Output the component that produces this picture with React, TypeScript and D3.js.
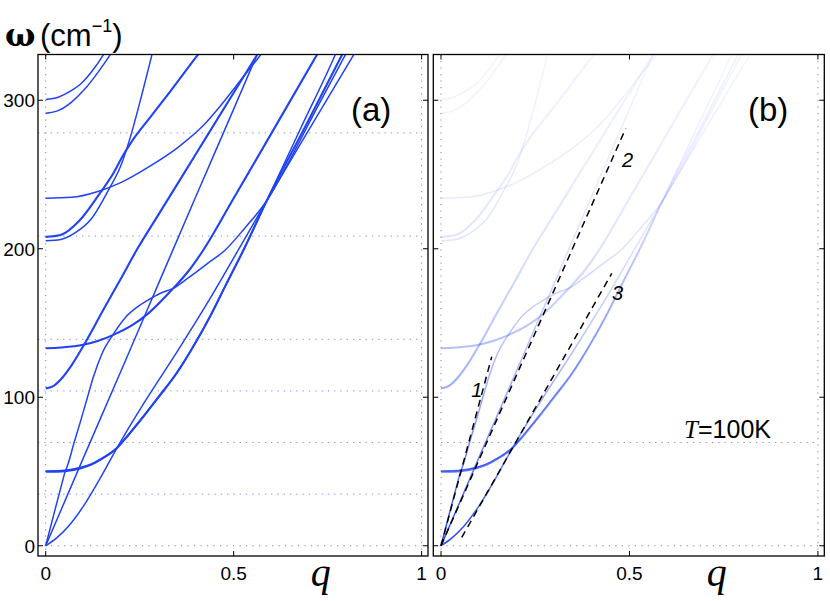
// App.tsx
// Two-panel phonon dispersion chart: (a) all branches, (b) the same branches
// faded with frequency, plus the sound-velocity asymptotes at T = 100 K.
import React from 'react';
import * as d3 from 'd3';

type Pt = [number, number];

// axis ticks
const qTicks = [0, 0.5, 1];
const qTickLabels = ['0', '0.5', '1'];
const wTicks = [0, 100, 200, 300];

// thermal reference levels, cm^-1 (0.5, 1, 1.5, 2, 3, 4 kT at 100 K)
const kTLevelsA = [34.75, 69.5, 104.25, 139, 208.5, 278];
const kTLevelsB = [69.5];

// dispersion branches, [q, omega]
const acousticSteep: Pt[] = [[0, 0], [0.025, 24.5], [0.05, 48.5]];
const branchS: Pt[] = [
  [0.05, 48.5], [0.06, 55.5], [0.075, 69], [0.091, 82.4], [0.11, 99], [0.127, 113.8],
  [0.15, 129.5], [0.18, 142.5], [0.215, 154.5], [0.245, 161], [0.273, 165.5],
  [0.305, 170], [0.339, 173.3], [0.38, 180.5], [0.43, 190], [0.477, 199],
  [0.53, 214], [0.588, 232.3], [0.65, 260], [0.72, 294], [0.796, 330], [0.81, 336.5],
];
const acousticMid: Pt[] = [
  [0, 0], [0.1, 59], [0.2, 117.5], [0.3, 176.5], [0.4, 235.5], [0.5, 294], [0.561, 330], [0.572, 336.5],
];
const acousticLow: Pt[] = [
  [0, 0], [0.03, 5.5], [0.06, 13], [0.1, 26.5], [0.144, 45], [0.189, 65.6], [0.26, 95.5],
  [0.348, 130], [0.435, 165.5], [0.512, 199], [0.588, 232.3], [0.7, 280], [0.818, 330], [0.832, 336],
];
const optic50: Pt[] = [
  [0, 49.8], [0.03, 49.9], [0.056, 50.4], [0.091, 52.1], [0.12, 54.5], [0.144, 57.7],
  [0.189, 65.6], [0.22, 74.5], [0.26, 86.9], [0.3, 100], [0.348, 116], [0.39, 133],
  [0.437, 154.2], [0.48, 176], [0.526, 199], [0.588, 232.3], [0.69, 282], [0.787, 330], [0.8, 336.5],
];
const optic50b: Pt[] = [
  [0, 50.4], [0.03, 50.5], [0.056, 51], [0.091, 52.7], [0.12, 55], [0.144, 58.2],
  [0.189, 66], [0.22, 75], [0.26, 87.4], [0.3, 100.4], [0.348, 116.4], [0.39, 133.3],
  [0.437, 154.5], [0.48, 176.2], [0.526, 199.2], [0.588, 232.3], [0.68, 282], [0.769, 330], [0.78, 336.5],
];
const optic106: Pt[] = [
  [0, 106], [0.02, 107.5], [0.04, 112], [0.07, 122], [0.1, 134.5], [0.153, 158.7],
  [0.198, 179], [0.242, 199.1], [0.3, 223], [0.4, 264], [0.5, 305], [0.561, 330], [0.576, 336],
];
const optic133: Pt[] = [
  [0, 133], [0.04, 133.5], [0.1, 135.3], [0.14, 138], [0.18, 142], [0.23, 148.5],
  [0.273, 156.5], [0.339, 173.3], [0.38, 185], [0.419, 199], [0.5, 234], [0.6, 277.5],
  [0.72, 330], [0.735, 336.5],
];
const optic205: Pt[] = [
  [0, 205.4], [0.04, 206.3], [0.08, 211], [0.121, 220], [0.167, 239.5], [0.2, 256],
  [0.225, 275], [0.255, 303], [0.282, 330], [0.288, 336],
];
const optic208: Pt[] = [
  [0, 208], [0.04, 209.3], [0.09, 219], [0.144, 237.3], [0.18, 250.8], [0.206, 263],
  [0.235, 274.5], [0.27, 286], [0.33, 305.5], [0.4, 329], [0.42, 335.5],
];
const optic233: Pt[] = [
  [0, 234], [0.068, 234.6], [0.139, 238.6], [0.201, 244.7], [0.272, 254.8], [0.352, 268.3],
  [0.423, 284], [0.464, 296], [0.517, 313], [0.57, 330], [0.588, 336],
];
const optic291: Pt[] = [
  [0, 291.2], [0.033, 293], [0.068, 298.6], [0.104, 307.5], [0.139, 318.8], [0.17, 330], [0.185, 336],
];
const optic300: Pt[] = [
  [0, 300.5], [0.033, 302], [0.068, 306.4], [0.095, 311.4], [0.121, 318.8], [0.152, 330], [0.16, 333.5],
];

// sound-velocity asymptotes in panel (b)
const sound1: Pt[] = [[0, 0], [0.1346, 127.3]];
const sound2: Pt[] = [[0, 0], [0.49, 281]];
const sound3: Pt[] = [[0.055, 5.6], [0.453, 183.4]];
const soundLabels: { text: string; at: Pt }[] = [
  { text: '1', at: [0.08, 100] },
  { text: '2', at: [0.48, 255] },
  { text: '3', at: [0.454, 165.5] },
];

const branches: { name: string; pts: Pt[] }[] = [
  { name: 'acousticSteep', pts: acousticSteep },
  { name: 'branchS', pts: branchS },
  { name: 'acousticMid', pts: acousticMid },
  { name: 'acousticLow', pts: acousticLow },
  { name: 'optic50', pts: optic50 },
  { name: 'optic50b', pts: optic50b },
  { name: 'optic106', pts: optic106 },
  { name: 'optic133', pts: optic133 },
  { name: 'optic205', pts: optic205 },
  { name: 'optic208', pts: optic208 },
  { name: 'optic233', pts: optic233 },
  { name: 'optic291', pts: optic291 },
  { name: 'optic300', pts: optic300 },
];

// styling
const BLUE = '#2143f5';
const thick = new Set(['optic50', 'optic106', 'optic133', 'optic208']);
// opacity of the faded curves in (b) against omega
const fadeStops: Pt[] = [
  [0, 1], [25, 0.86], [50, 0.72], [80, 0.56], [106, 0.44], [133, 0.34], [170, 0.23],
  [205, 0.14], [250, 0.1], [300, 0.07], [331, 0.06],
];

const W = 830;
const H = 601;
const TOP = 54.5;
const BOTTOM = 556;
const W_DOMAIN: [number, number] = [-6.9, 330.8];
const Q_DOMAIN: [number, number] = [-0.0205, 1.017];
const SANS = '"Liberation Sans", Arial, Helvetica, sans-serif';
const SERIF = '"Liberation Serif", "Times New Roman", serif';

interface PanelProps {
  id: string;
  left: number;
  right: number;
  faded: boolean;
  levels: number[];
  levelsFrom: number;
  label: string;
  labelX: number;
  showYLabels: boolean;
}

const Panel: React.FC<PanelProps> = ({ id, left, right, faded, levels, levelsFrom, label, labelX, showYLabels }) => {
  const x = d3.scaleLinear().domain(Q_DOMAIN).range([left, right]);
  const y = d3.scaleLinear().domain(W_DOMAIN).range([BOTTOM, TOP]);
  const line = d3
    .line<Pt>()
    .x((d) => x(d[0]))
    .y((d) => y(d[1]))
    .curve(d3.curveMonotoneX);
  const straight = d3
    .line<Pt>()
    .x((d) => x(d[0]))
    .y((d) => y(d[1]));

  const clipId = `clip-${id}`;
  const gradId = `fade-${id}`;
  const tick = 5;

  return (
    <g>
      <defs>
        <clipPath id={clipId}>
          <rect x={left} y={TOP} width={right - left} height={BOTTOM - TOP} />
        </clipPath>
        {faded && (
          <linearGradient id={gradId} gradientUnits="userSpaceOnUse" x1={0} x2={0} y1={y(0)} y2={y(331)}>
            {fadeStops.map(([w, a]) => (
              <stop key={w} offset={w / 331} stopColor={BLUE} stopOpacity={a} />
            ))}
          </linearGradient>
        )}
      </defs>

      <g clipPath={`url(#${clipId})`}>
        {/* grey dotted guides at the axis limits */}
        {[0, 1].map((q) => (
          <line key={q} x1={x(q)} x2={x(q)} y1={TOP} y2={BOTTOM} stroke="#777" strokeWidth={0.9} strokeDasharray="1.2,5.3" />
        ))}
        <line x1={left} x2={right} y1={y(0)} y2={y(0)} stroke="#777" strokeWidth={0.9} strokeDasharray="1.2,5.3" />

        {/* kT levels */}
        {levels.map((w) => (
          <line key={w} x1={x(levelsFrom)} x2={x(1)} y1={y(w)} y2={y(w)} stroke="#7d8dff" strokeWidth={1} strokeDasharray="1.3,5" />
        ))}

        {branches.map((b) => (
          <path
            key={b.name}
            d={line(b.pts) || ''}
            fill="none"
            stroke={faded ? `url(#${gradId})` : BLUE}
            strokeWidth={thick.has(b.name) ? 2.1 : 1.5}
          />
        ))}

        {faded &&
          [sound1, sound2, sound3].map((s, i) => (
            <path key={i} d={straight(s) || ''} fill="none" stroke="#000" strokeWidth={1.5} strokeDasharray="7,5" />
          ))}
      </g>

      {/* frame */}
      <rect x={left} y={TOP} width={right - left} height={BOTTOM - TOP} fill="none" stroke="#000" strokeWidth={1.3} />

      {/* ticks */}
      {wTicks.map((w) => (
        <g key={w}>
          <line x1={left} x2={left + tick} y1={y(w)} y2={y(w)} stroke="#000" strokeWidth={1} />
          <line x1={right - tick} x2={right} y1={y(w)} y2={y(w)} stroke="#000" strokeWidth={1} />
          {showYLabels && (
            <text x={left - 3} y={y(w)} dy="0.36em" textAnchor="end" fontFamily={SANS} fontSize={19}>
              {w}
            </text>
          )}
        </g>
      ))}
      {qTicks.map((q, i) => (
        <g key={q}>
          <line x1={x(q)} x2={x(q)} y1={BOTTOM} y2={BOTTOM - tick} stroke="#000" strokeWidth={1} />
          <line x1={x(q)} x2={x(q)} y1={TOP} y2={TOP + tick} stroke="#000" strokeWidth={1} />
          <text x={x(q)} y={580} textAnchor="middle" fontFamily={SANS} fontSize={19}>
            {qTickLabels[i]}
          </text>
        </g>
      ))}

      {/* x label */}
      <text x={x(0.705)} y={586} fontFamily={SERIF} fontStyle="italic" fontSize={40}>
        q
      </text>

      {/* panel letter */}
      <text x={labelX} y={121} fontFamily={SANS} fontSize={33}>
        {label}
      </text>

      {faded && (
        <g>
          {soundLabels.map((l) => (
            <text key={l.text} x={x(l.at[0])} y={y(l.at[1])} fontFamily={SANS} fontStyle="italic" fontSize={20}>
              {l.text}
            </text>
          ))}
          <text x={x(0.645)} y={y(72.5)} fontSize={25}>
            <tspan fontFamily={SERIF} fontStyle="italic">T</tspan>
            <tspan fontFamily={SANS}>=100K</tspan>
          </text>
        </g>
      )}
    </g>
  );
};

export default function App() {
  return (
    <svg
      width={W}
      height={H}
      viewBox={`0 0 ${W} ${H}`}
      style={{ position: 'absolute', left: 0, top: 0, display: 'block', background: '#fff' }}
    >
      <rect width={W} height={H} fill="#fff" />
      <text x={5} y={46} fontFamily='"DejaVu Serif", serif' fontWeight="bold" fontSize={32}>
        ω
      </text>
      <text x={40} y={46} fontFamily={SANS} fontSize={31}>
        <tspan>(cm</tspan>
        <tspan fontSize={18} dy={-14}>−1</tspan>
        <tspan dy={14}>)</tspan>
      </text>
      <Panel id="a" left={38} right={428} faded={false} levels={kTLevelsA} levelsFrom={-0.0205} label="(a)" labelX={351} showYLabels />
      <Panel id="b" left={433.3} right={824.3} faded levels={kTLevelsB} levelsFrom={0} label="(b)" labelX={748} showYLabels={false} />
    </svg>
  );
}
